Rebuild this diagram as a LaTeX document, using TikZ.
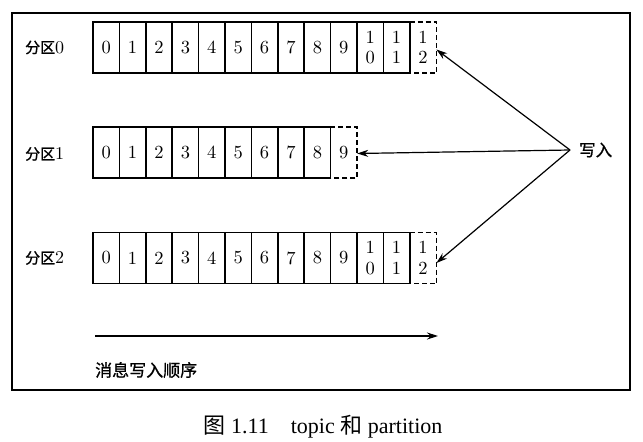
\documentclass[tikz,border=0pt]{standalone}
\usepackage{fontspec}
\newfontfamily\cjk{Noto Sans CJK SC}
\newfontfamily\cjkm{Noto Sans CJK SC}[FakeBold=1]
\newfontfamily\numfont{lmroman10-regular.otf}
\newfontfamily\capfont{Liberation Serif}
\usetikzlibrary{arrows.meta}
\begin{document}
\begin{tikzpicture}[x=1pt,y=-1pt,
  cellbox/.style={draw,line width=1.5pt,minimum width=26.4pt,minimum height=51pt,inner sep=0pt,
     font=\numfont\fontsize{18.5}{20.5}\selectfont,align=center},
  openbox/.style={minimum width=26.4pt,minimum height=51pt,inner sep=0pt,
     font=\numfont\fontsize{18.5}{20.5}\selectfont,align=center},
  dashedge/.style={line width=1.5pt,dash pattern=on 5pt off 3pt},
  lab/.style={font=\cjkm\fontsize{15}{18}\selectfont,inner sep=0pt},
  arr/.style={line width=1.2pt,-{Stealth[length=11pt,width=7pt]}}
]
\useasboundingbox (0,0) rectangle (643,442);
\draw[line width=1.1pt] (12,13) rectangle (630,390);
% row labels
\node[lab,anchor=west] (l0) at (25,47.5) {分区{\numfont\fontsize{18}{18}\selectfont 0}};
\node[lab,anchor=west] (l1) at (25,154) {分区{\numfont\fontsize{18}{18}\selectfont 1}};
\node[lab,anchor=west] (l2) at (25,258) {分区{\numfont\fontsize{18}{18}\selectfont 2}};
% rows
\foreach \r/\y/\n in {0/47.5/12,1/152.5/9,2/258/12}{
  \pgfmathtruncatemacro{\last}{\n-1}
  \foreach \i in {0,...,\last}{
    \ifnum\i<10
      \node[cellbox] (r\r c\i) at ({93+26.4*(\i+0.5)},\y) {\i};
    \else
      \pgfmathtruncatemacro{\u}{\i-10}
      \node[cellbox] (r\r c\i) at ({93+26.4*(\i+0.5)},\y) {1\\\u};
    \fi
  }
  \ifnum\n<10
    \node[openbox] (r\r c\n) at ({93+26.4*(\n+0.5)},\y) {\n};
  \else
    \pgfmathtruncatemacro{\u}{\n-10}
    \node[openbox] (r\r c\n) at ({93+26.4*(\n+0.5)},\y) {1\\\u};
  \fi
  \draw[dashedge] (r\r c\n.north west) -- (r\r c\n.north east) -- (r\r c\n.south east) -- (r\r c\n.south west);
}
% write arrows
\node[lab,anchor=west,font=\cjkm\fontsize{16.5}{19}\selectfont] (w) at (579,150) {写入};
\coordinate (src) at (570,150);
\draw[arr] (src) -- ([yshift=-2pt]r0c12.east);
\draw[arr] (src) -- ([yshift=-1pt]r1c9.east);
\draw[arr] (src) -- ([yshift=-5pt]r2c12.east);
% order arrow
\coordinate (o1) at (95,336);
\coordinate (o2) at (438,336);
\draw[arr] (o1) -- (o2);
\node[lab,anchor=west,font=\cjkm\fontsize{17}{20}\selectfont] (ord) at (95,370) {消息写入顺序};
% caption
\node[font=\capfont\fontsize{22}{24}\selectfont,inner sep=0pt] (cap) at (323,427) {{\cjk 图} 1.11\quad topic {\cjk 和} partition};
\end{tikzpicture}
\end{document}
